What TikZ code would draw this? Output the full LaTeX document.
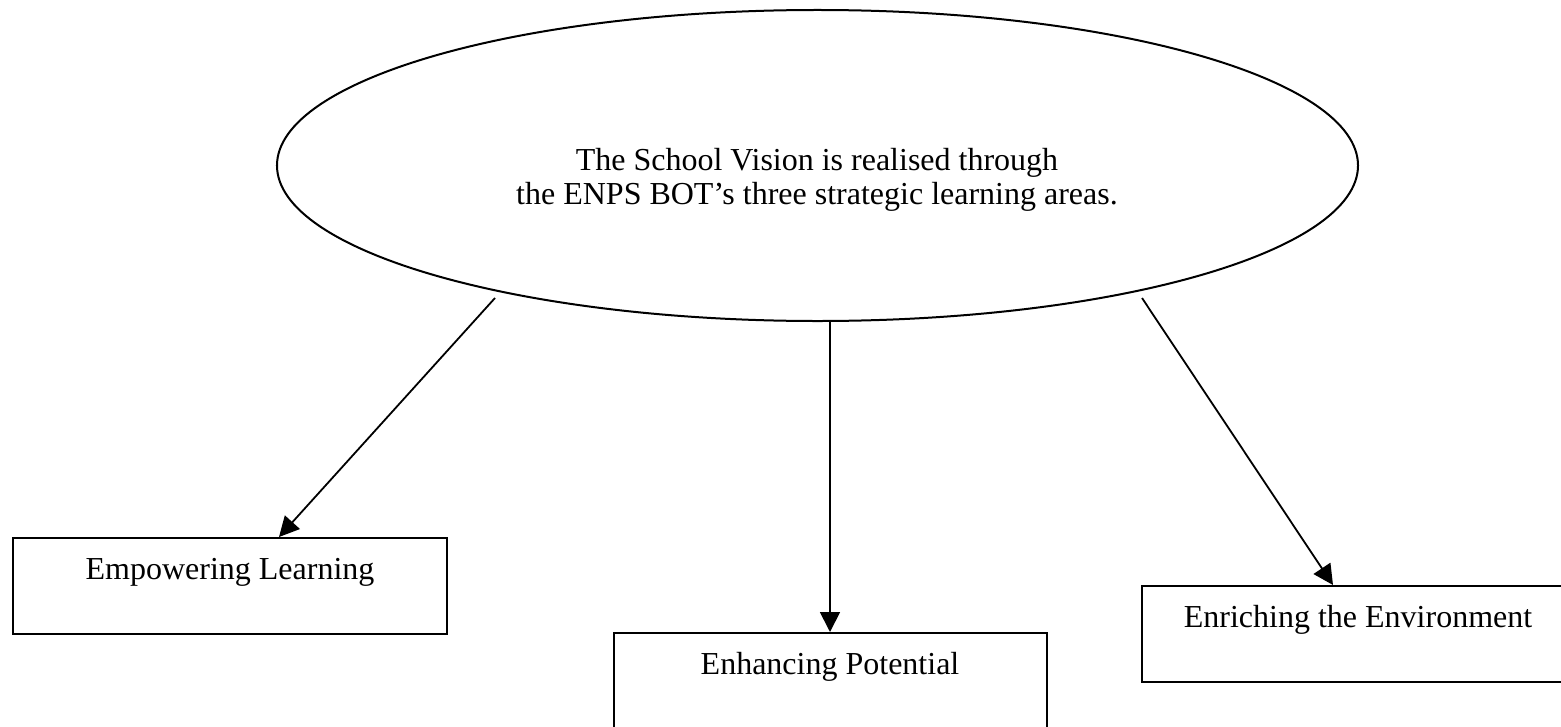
\documentclass[tikz,border=0pt]{standalone}
\usepackage{fontspec}
\setmainfont{Liberation Serif}
\usetikzlibrary{arrows.meta,shapes.geometric}
\begin{document}
\begin{tikzpicture}[x=0.5bp,y=-0.5bp,
  every node/.style={font=\fontsize{16bp}{17bp}\selectfont},
  vision/.style={ellipse,draw,line width=1bp,minimum width=540.5bp,minimum height=155.5bp,inner sep=0pt},
  visiontext/.style={align=center,inner sep=0pt},
  area/.style={rectangle,draw,line width=1bp,minimum width=216.5bp,minimum height=48bp,inner sep=0pt,text height=20.5bp,text depth=27.5bp},
  arr/.style={line width=0.9bp,-{Triangle[length=10bp,width=10bp]}}]
\useasboundingbox (0,0) rectangle (1561,727);
\clip (0,0) rectangle (1561,727);
\node[vision] (ell) at (817.5,165.5) {};
\node[visiontext] (vtext) at (817,180) {The School Vision is realised through\\the ENPS BOT’s three strategic learning areas.};
\node[area] (b1) at (230,586) {Empowering Learning};
\node[area] (b2) at (830,681) {Enhancing Potential};
\node[area] (b3) at (1358,634) {Enriching the Environment};
\coordinate (s1) at (495,298);
\coordinate (s3) at (1142,298);
\draw[arr] (s1) -- ([xshift=24.5bp]b1.north);
\draw[arr] (b2.north |- ell.south) -- (b2.north);
\draw[arr] (s3) -- ([xshift=-12.5bp]b3.north);
\end{tikzpicture}
\end{document}
